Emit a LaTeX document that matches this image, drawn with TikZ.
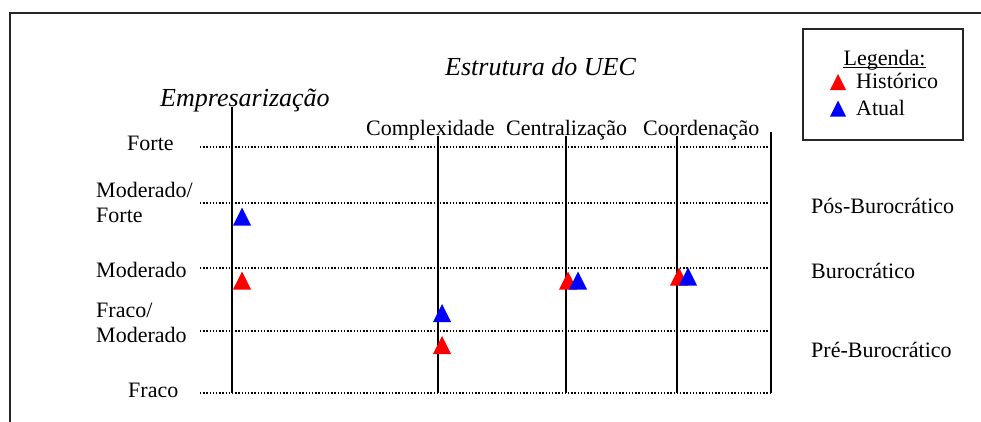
\documentclass[tikz,border=0pt]{standalone}
\usepackage{fontspec}
\setmainfont{Liberation Serif}
\begin{document}
\begin{tikzpicture}[x=1pt,y=-1pt,
  lbl/.style={inner sep=0pt,font=\fontsize{22}{25}\selectfont},
  ttl/.style={inner sep=0pt,font=\fontsize{26}{30}\selectfont\itshape},
  frame/.style={line width=2pt,black!85},
  axis/.style={line width=2pt,black},
  grid/.style={line width=1.3pt,black,dash pattern=on 1.3pt off 1.9pt},
  hist/.style={fill={rgb,255:red,255;green,0;blue,0}},
  atual/.style={fill={rgb,255:red,0;green,0;blue,255}}]
\newcommand\mktri[4]{\fill[#4] (#1-#3,#2+#3) -- (#1+#3,#2+#3) -- (#1,#2-#3) -- cycle;}
\useasboundingbox (0,0) rectangle (981,421);
% outer frame
\draw[frame] (10,430) -- (10,13) -- (990,13);
% grid lines
\foreach \yy in {147,203,268,331,393}
  \draw[grid] (200,\yy) -- (772,\yy);
% axes
\coordinate (e0) at (232,107); \coordinate (e1) at (232,393);
\coordinate (c0) at (438,136); \coordinate (c1) at (438,393);
\coordinate (z0) at (566,136); \coordinate (z1) at (566,393);
\coordinate (o0) at (677,136); \coordinate (o1) at (677,393);
\coordinate (r0) at (771,132); \coordinate (r1) at (771,393);
\draw[axis] (e0) -- (e1);
\draw[axis] (c0) -- (c1);
\draw[axis] (z0) -- (z1);
\draw[axis] (o0) -- (o1);
\draw[axis] (r0) -- (r1);
% titles
\node[ttl,anchor=base west] (tEmp) at (160,106) {Empresarização};
\node[ttl,anchor=base west] (tUEC) at (445,75) {Estrutura do UEC};
\node[lbl,anchor=base west] (hC) at (366,135) {Complexidade};
\node[lbl,anchor=base west] (hZ) at (506,135) {Centralização};
\node[lbl,anchor=base west] (hO) at (643,135) {Coordenação};
% left labels
\node[lbl,anchor=base west] (lF) at (127,150) {Forte};
\node[lbl,anchor=base west] (lMF1) at (96,197) {Moderado/};
\node[lbl,anchor=base west] (lMF2) at (96,222) {Forte};
\node[lbl,anchor=base west] (lM) at (96,277) {Moderado};
\node[lbl,anchor=base west] (lFM1) at (96,317) {Fraco/};
\node[lbl,anchor=base west] (lFM2) at (96,342) {Moderado};
\node[lbl,anchor=base west] (lFr) at (128,397) {Fraco};
% right labels
\node[lbl,anchor=base west] (rPos) at (811,213) {Pós-Burocrático};
\node[lbl,anchor=base west] (rBur) at (811,278) {Burocrático};
\node[lbl,anchor=base west] (rPre) at (811,357) {Pré-Burocrático};
% legend
\draw[line width=1.6pt,black!85] (803,29) rectangle (963,140);
\node[lbl,anchor=base] (leg) at (884.5,65) {Legenda:};
\draw[line width=1.4pt] ([yshift=-2.5pt]leg.base west) -- ([yshift=-2.5pt]leg.base east);
\node[lbl,anchor=base west] (lh) at (856,88) {Histórico};
\node[lbl,anchor=base west] (la) at (856,115) {Atual};
\mktri{838}{82}{8}{hist}
\mktri{838}{108.5}{8}{atual}
% markers
\mktri{242}{216.5}{9}{atual}
\mktri{242}{280.5}{9}{hist}
\mktri{442}{313}{9}{atual}
\mktri{442}{345}{9}{hist}
\mktri{568}{280.5}{9}{hist}
\mktri{578}{280.5}{9}{atual}
\mktri{679}{276.5}{9}{hist}
\mktri{688}{276.5}{9}{atual}
\end{tikzpicture}
\end{document}
